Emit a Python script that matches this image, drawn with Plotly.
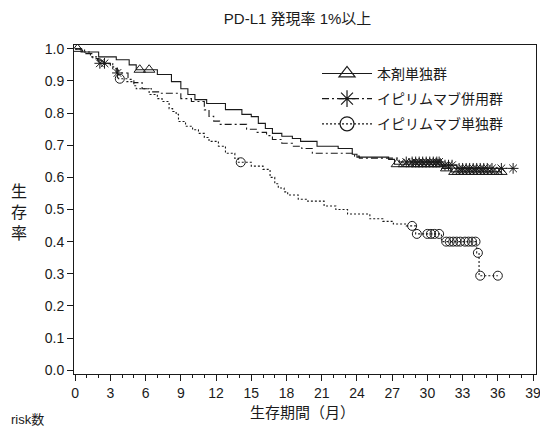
import plotly.graph_objects as go

# ---- data ----
title_text = "PD-L1 発現率 1%以上"
series_names = ["本剤単独群", "イピリムマブ併用群", "イピリムマブ単独群"]

# 本剤単独群 (solid, triangles)
a_t = [0, 0.5, 2.0, 3.5, 4.6, 5.2, 7.0, 8.2, 9.0, 9.6, 10.2, 11.2, 12.8, 14.2, 15.0, 15.6, 16.2, 16.8,
       17.6, 18.5, 19.2, 20.6, 22.4, 23.6, 24.0, 26.7, 27.2, 31.3, 32.0, 36.3]
a_v = [1.0, 0.99, 0.975, 0.966, 0.950, 0.935, 0.920, 0.898, 0.876, 0.858, 0.842, 0.830, 0.811, 0.796,
       0.789, 0.768, 0.752, 0.737, 0.728, 0.721, 0.712, 0.697, 0.690, 0.672, 0.663, 0.656, 0.641, 0.628,
       0.617, 0.617]
a_cens = [0.2, 5.5, 6.3, 27.4, 28.0, 28.4, 28.8, 29.1, 29.4, 29.7, 30.0, 30.3, 30.6, 30.9, 31.1, 31.6,
          32.3, 32.6, 32.9, 33.2, 33.5, 33.8, 34.1, 34.4, 34.7, 35.0, 35.3, 35.6, 35.9, 36.3]

# イピリムマブ併用群 (dash-dot, asterisks)
b_t = [0, 0.8, 1.5, 2.0, 3.0, 3.5, 4.5, 5.0, 5.7, 6.5, 7.2, 9.0, 9.9, 11.0, 11.4, 11.8, 12.3, 14.6,
       15.5, 16.3, 16.8, 17.6, 18.5, 19.3, 20.2, 23.8, 24.2, 27.6, 31.2, 32.5, 37.3]
b_v = [1.0, 0.985, 0.97, 0.955, 0.944, 0.925, 0.905, 0.895, 0.876, 0.866, 0.862, 0.845, 0.836, 0.81,
       0.79, 0.775, 0.765, 0.75, 0.74, 0.73, 0.718, 0.706, 0.697, 0.69, 0.675, 0.666, 0.66, 0.648,
       0.638, 0.628, 0.628]
b_cens = [2.1, 2.5, 3.6, 28.2, 28.7, 29.0, 29.3, 29.6, 29.9, 30.2, 30.5, 30.8, 31.0, 31.5, 31.8, 32.1,
          32.7, 33.0, 33.3, 33.6, 33.9, 34.2, 34.5, 34.8, 35.1, 35.5, 36.3, 37.3]

# イピリムマブ単独群 (dotted, circles)
c_t = [0, 0.6, 1.3, 1.9, 2.4, 3.2, 3.7, 4.4, 5.0, 5.2, 6.3, 7.0, 7.4, 8.0, 8.3, 8.6, 8.8, 9.4, 10.0,
       10.5, 11.0, 11.4, 12.2, 12.8, 13.6, 13.9, 15.0, 16.0, 16.6, 17.0, 17.3, 17.8, 18.1, 19.0, 19.8,
       21.2, 22.2, 23.2, 25.1, 26.2, 27.1, 28.2, 29.0, 31.2, 34.2, 34.4, 36.0]
c_v = [1.0, 0.99, 0.975, 0.965, 0.954, 0.938, 0.907, 0.898, 0.885, 0.876, 0.858, 0.845, 0.836, 0.814,
       0.805, 0.796, 0.774, 0.759, 0.748, 0.737, 0.724, 0.712, 0.697, 0.675, 0.659, 0.647, 0.635, 0.625,
       0.60, 0.58, 0.567, 0.555, 0.545, 0.532, 0.526, 0.511, 0.50, 0.486, 0.471, 0.463, 0.455, 0.449,
       0.424, 0.40, 0.365, 0.294, 0.294]
c_cens = [3.8, 14.1, 28.7, 29.1, 30.0, 30.3, 30.6, 31.0, 31.6, 31.9, 32.2, 32.5, 32.8, 33.2, 33.5,
          33.8, 34.1, 34.3, 34.5, 36.0]

x_ticks = list(range(0, 40, 3))
y_ticks = [i / 10 for i in range(11)]
x_title = "生存期間（月）"
y_title = "生<br>存<br>率"
risk_label = "risk数"


def step_value(ts, vs, t):
    val = vs[0]
    for ti, vi in zip(ts, vs):
        if ti <= t:
            val = vi
    return val


FONT = "Arial, 'Liberation Sans', 'Noto Sans CJK JP', sans-serif"
INK = "#1a1a1a"

styles = [
    dict(t=a_t, v=a_v, c=a_cens, dash="solid", sym="triangle-up-open", size=10),
    dict(t=b_t, v=b_v, c=b_cens, dash="7px,3px,2px,3px", sym="asterisk-open", size=9),
    dict(t=c_t, v=c_v, c=c_cens, dash="2px,2px", sym="circle-open", size=9),
]

fig = go.Figure()
for name, s in zip(series_names, styles):
    fig.add_trace(go.Scatter(
        x=s["t"], y=s["v"], mode="lines", line=dict(color=INK, width=1.1, dash=s["dash"], shape="hv"),
        showlegend=False, hoverinfo="skip"))
    fig.add_trace(go.Scatter(
        x=s["c"], y=[step_value(s["t"], s["v"], t) for t in s["c"]], mode="markers",
        marker=dict(symbol=s["sym"], size=s["size"], color=INK, line=dict(width=1, color=INK)),
        showlegend=False, hoverinfo="skip"))
    # legend entry
    fig.add_trace(go.Scatter(
        x=[None], y=[None], mode="lines+markers", name=name, legendgroup=name,
        line=dict(color=INK, width=1.1, dash=s["dash"]),
        marker=dict(symbol=s["sym"], size=14, color=INK, line=dict(width=1.2, color=INK))))

# page body adds an 8px offset, so the figure is 540x420 drawn at (8,8)
fig.update_layout(
    width=540, height=420,
    margin=dict(l=66, r=7, t=37, b=54),
    paper_bgcolor="white", plot_bgcolor="white",
    font=dict(family=FONT, size=14, color=INK),
    title=dict(text=title_text, x=0.484, xref="paper", xanchor="center", y=0.974, yanchor="middle",
               font=dict(size=15, color=INK)),
    showlegend=True,
    legend=dict(x=0.526, y=0.961, xanchor="left", yanchor="top", bgcolor="rgba(0,0,0,0)",
                font=dict(size=14, color=INK), tracegroupgap=4, itemwidth=50),
    xaxis=dict(range=[-0.1, 39.25], tickvals=x_ticks, ticks="outside", ticklen=6, tickwidth=1,
               tickcolor=INK, showline=True, linecolor=INK, linewidth=1, mirror=True,
               showgrid=False, zeroline=False, tickfont=dict(size=14),
               minor=dict(dtick=1, ticks="outside", ticklen=3, tickcolor=INK, showgrid=False)),
    yaxis=dict(range=[-0.012, 1.012], tickvals=y_ticks, tickformat=".1f", ticks="outside", ticklen=6,
               tickwidth=1, tickcolor=INK, showline=True, linecolor=INK, linewidth=1, mirror=True,
               showgrid=False, zeroline=False, tickfont=dict(size=14)),
    annotations=[
        dict(text=x_title, x=0.495, y=-0.1185, xref="paper", yref="paper", xanchor="center",
             yanchor="middle", showarrow=False, font=dict(size=15, color=INK)),
        dict(text=y_title, x=-0.12, y=0.492, xref="paper", yref="paper", xanchor="center",
             yanchor="middle", showarrow=False, font=dict(size=16, color=INK)),
        dict(text=risk_label, x=-0.1413, y=-0.137, xref="paper", yref="paper", xanchor="left",
             yanchor="middle", showarrow=False, font=dict(size=13, color=INK)),
    ],
)

fig.write_html("out.html")
